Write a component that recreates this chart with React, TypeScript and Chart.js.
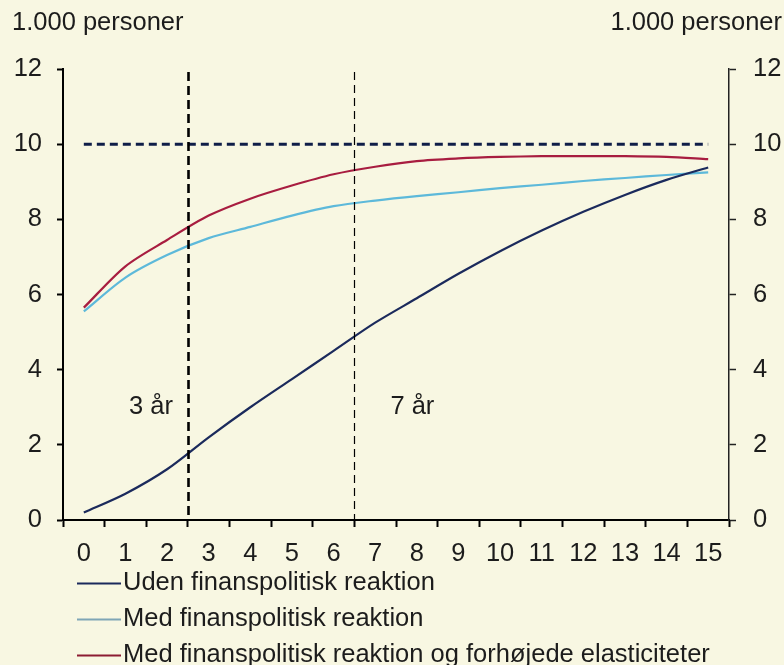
import React, { useEffect, useRef } from 'react';
import { Chart, registerables } from 'chart.js';

Chart.register(...registerables);

const years = ['0', '1', '2', '3', '4', '5', '6', '7', '8', '9', '10', '11', '12', '13', '14', '15'];
const udenReaktion = [0.2, 0.7, 1.35, 2.2, 3.0, 3.75, 4.5, 5.25, 5.9, 6.55, 7.15, 7.7, 8.2, 8.65, 9.05, 9.38];
const medReaktion = [5.55, 6.45, 7.05, 7.5, 7.8, 8.1, 8.35, 8.5, 8.62, 8.72, 8.83, 8.92, 9.02, 9.1, 9.18, 9.25];
const medForhoejede = [5.65, 6.75, 7.45, 8.1, 8.55, 8.9, 9.2, 9.4, 9.55, 9.62, 9.66, 9.68, 9.68, 9.68, 9.66, 9.6];
const maalNiveau = [10, 10, 10, 10, 10, 10, 10, 10, 10, 10, 10, 10, 10, 10, 10, 10];
const seriesLabels = [
  'Uden finanspolitisk reaktion',
  'Med finanspolitisk reaktion',
  'Med finanspolitisk reaktion og forhøjede elasticiteter',
];
const markerPositions = [2.5, 6.5];
const markerLabels = ['3 år', '7 år'];
const markerLabelValue = 3;
const yTicks = [0, 2, 4, 6, 8, 10, 12];
const unitLabel = '1.000 personer';

const FONT = '"Liberation Sans", Arial, sans-serif';
const FS = 25.5;
const TEXT = '#1c1c1c';
const BG = '#F8F7E2';

const decorPlugin = {
  id: 'decor',
  beforeDraw(chart: any) {
    const { ctx, width, height } = chart;
    ctx.save();
    ctx.fillStyle = BG;
    ctx.fillRect(0, 0, width, height);
    ctx.restore();
  },
  afterDatasetsDraw(chart: any) {
    const { ctx, chartArea, scales } = chart;
    const x = scales.x;
    const y = scales.y;
    ctx.save();
    markerPositions.forEach((pos, i) => {
      const px = Math.round(x.getPixelForValue(pos)) + 0.5;
      ctx.beginPath();
      ctx.strokeStyle = '#000';
      ctx.lineWidth = i === 0 ? 2.6 : 1.2;
      ctx.setLineDash(i === 0 ? [9, 5] : [8, 5]);
      ctx.moveTo(px, chartArea.top + 3);
      ctx.lineTo(px, chartArea.bottom);
      ctx.stroke();
    });
    ctx.setLineDash([]);
    ctx.fillStyle = TEXT;
    ctx.font = `${FS}px ${FONT}`;
    ctx.textBaseline = 'middle';
    const ly = y.getPixelForValue(markerLabelValue);
    ctx.textAlign = 'right';
    ctx.fillText(markerLabels[0], x.getPixelForValue(markerPositions[0]) - 15, ly);
    ctx.textAlign = 'left';
    ctx.fillText(markerLabels[1], x.getPixelForValue(markerPositions[1]) + 36, ly);
    ctx.restore();
  },
  afterDraw(chart: any) {
    const { ctx } = chart;
    ctx.save();
    ctx.fillStyle = TEXT;
    ctx.font = `${FS}px ${FONT}`;
    ctx.textBaseline = 'middle';
    ctx.textAlign = 'left';
    ctx.fillText(unitLabel, 12, 23);
    ctx.textAlign = 'right';
    ctx.fillText(unitLabel, 782, 23);
    const rows = [583, 619, 655];
    chart.data.datasets.forEach((ds: any, i: number) => {
      if (i >= seriesLabels.length) return;
      const ry = rows[i];
      ctx.beginPath();
      ctx.strokeStyle = ds.legendColor || ds.borderColor;
      ctx.lineWidth = 2;
      ctx.moveTo(77, ry + 0.5);
      ctx.lineTo(121, ry + 0.5);
      ctx.stroke();
      ctx.fillStyle = TEXT;
      ctx.textAlign = 'left';
      ctx.fillText(ds.label, 123, ry);
    });
    ctx.restore();
  },
};

export default function App() {
  const ref = useRef<HTMLCanvasElement | null>(null);

  useEffect(() => {
    document.body.style.margin = '0';
    document.body.style.background = BG;
    const canvas = ref.current;
    if (!canvas) return;
    const chart = new Chart(canvas, {
      type: 'line',
      data: {
        labels: years,
        datasets: [
          {
            label: seriesLabels[0],
            data: udenReaktion,
            borderColor: '#1B2A5C',
            borderWidth: 2.2,
            pointRadius: 0,
            tension: 0.3,
          } as any,
          {
            label: seriesLabels[1],
            data: medReaktion,
            borderColor: '#5DB9DA',
            legendColor: '#7FA6B6',
            borderWidth: 2.2,
            pointRadius: 0,
            tension: 0.3,
          },
          {
            label: seriesLabels[2],
            data: medForhoejede,
            borderColor: '#A81D40',
            legendColor: '#8C1C33',
            borderWidth: 2.2,
            pointRadius: 0,
            tension: 0.3,
          },
          {
            label: 'niveau',
            data: maalNiveau,
            borderColor: '#0F1E48',
            borderWidth: 3,
            borderDash: [8, 5],
            pointRadius: 0,
            tension: 0,
          },
        ],
      },
      options: {
        animation: false,
        responsive: true,
        maintainAspectRatio: false,
        layout: { padding: { top: 69, left: 0, right: 0, bottom: 0 } },
        plugins: {
          legend: { display: false },
          tooltip: { enabled: false },
        },
        scales: {
          x: {
            type: 'category',
            offset: true,
            grid: {
              offset: true,
              drawOnChartArea: false,
              drawTicks: true,
              tickLength: 7,
              tickWidth: 2,
              tickColor: '#000',
            },
            border: { display: true, color: '#000', width: 2 },
            ticks: {
              color: TEXT,
              font: { family: FONT, size: FS },
              padding: 12,
              maxRotation: 0,
              autoSkip: false,
            },
            afterFit: (s: any) => {
              s.height = 145;
            },
          },
          y: {
            position: 'left',
            min: 0,
            max: 12,
            afterBuildTicks: (s: any) => {
              s.ticks = yTicks.map((v) => ({ value: v }));
            },
            grid: {
              drawOnChartArea: false,
              drawTicks: true,
              tickLength: 6,
              tickWidth: 2,
              tickColor: '#000',
            },
            border: { display: true, color: '#000', width: 2 },
            ticks: {
              color: TEXT,
              font: { family: FONT, size: FS },
              padding: 15,
            },
            afterFit: (s: any) => {
              s.width = 63;
            },
          },
          y1: {
            position: 'right',
            min: 0,
            max: 12,
            afterBuildTicks: (s: any) => {
              s.ticks = yTicks.map((v) => ({ value: v }));
            },
            grid: {
              drawOnChartArea: false,
              drawTicks: true,
              tickLength: 7,
              tickWidth: 1.5,
              tickColor: '#222',
            },
            border: { display: true, color: '#222', width: 1.5 },
            ticks: {
              color: TEXT,
              font: { family: FONT, size: FS },
              padding: 17,
            },
            afterFit: (s: any) => {
              s.width = 55;
            },
          },
        },
      },
      plugins: [decorPlugin],
    });
    return () => chart.destroy();
  }, []);

  return (
    <div style={{ width: 784, height: 665, position: 'relative', background: BG }}>
      <canvas ref={ref} />
    </div>
  );
}
